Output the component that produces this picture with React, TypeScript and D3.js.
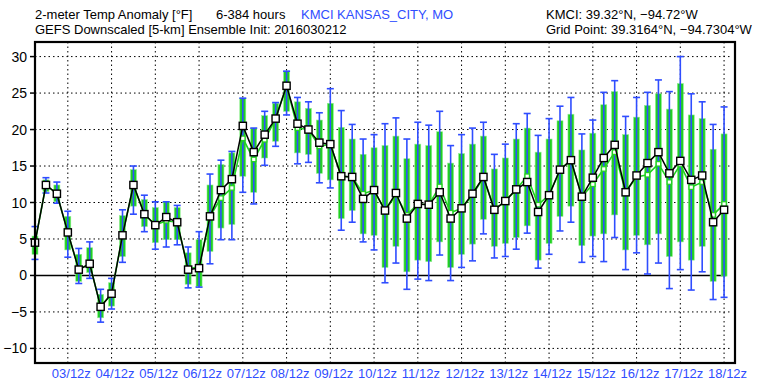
import * as d3 from "d3";

// forecast lead times, 6-384 h
const hours = d3.range(6, 385, 6);

// ensemble mean (black squares)
const meanVals = [
  4.5, 12.4, 11.2, 5.9, 0.8, 1.6, -4.3, -2.5, 5.5, 12.4, 8.4, 6.9, 8.0, 7.3, 0.8, 1.0,
  8.1, 11.7, 13.2, 20.5, 16.9, 19.3, 21.5, 26.0, 20.8, 20.0, 18.2, 18.0, 13.6, 13.5, 10.5, 11.7,
  8.9, 11.3, 7.8, 9.8, 9.7, 11.4, 7.8, 9.2, 11.2, 13.5, 9.0, 10.2, 11.8, 12.8, 8.7, 11.0,
  14.5, 15.8, 10.8, 13.4, 16.1, 17.9, 11.4, 13.7, 15.4, 16.9, 14.0, 15.7, 13.1, 13.7, 7.3, 9.0,
];

// ensemble median (green line)
const medianVals = [
  4.5, 12.4, 11.2, 5.9, 0.8, 1.6, -4.3, -2.5, 5.5, 12.4, 8.4, 6.9, 7.5, 7.3, 0.9, 1.2,
  8.1, 10.6, 12.0, 18.8, 15.9, 18.6, 21.5, 26.0, 20.2, 20.0, 17.7, 18.0, 13.6, 13.5, 11.2, 11.7,
  8.9, 11.0, 8.3, 9.8, 9.7, 12.2, 8.6, 9.2, 11.0, 13.5, 9.0, 10.2, 11.8, 13.6, 9.7, 11.0,
  14.5, 15.8, 10.8, 12.5, 14.6, 16.9, 11.4, 13.5, 13.8, 15.3, 12.8, 15.2, 12.1, 12.8, 8.3, 9.8,
];

const boxHigh = [
  5.4, 13.1, 12.4, 8.1, 2.9, 3.8, -2.6, -1.0, 8.2, 14.5, 10.4, 9.3, 10.1, 9.3, 3.1, 4.9,
  12.4, 15.2, 16.8, 24.3, 20.2, 21.9, 23.6, 28.0, 23.8, 22.9, 21.3, 23.6, 20.3, 18.7, 16.6, 17.5,
  17.8, 19.1, 16.0, 18.0, 17.8, 19.7, 15.4, 16.7, 18.0, 19.1, 14.6, 16.1, 18.7, 20.2, 16.9, 18.7,
  21.2, 22.1, 17.2, 19.5, 23.4, 25.2, 19.3, 21.7, 23.3, 24.9, 22.8, 26.3, 22.0, 21.5, 17.3, 19.4,
];

const boxLow = [
  2.9, 11.5, 10.1, 3.5, -0.8, 0.4, -5.8, -4.2, 2.6, 9.5, 6.7, 4.5, 4.9, 4.9, -1.2, -1.5,
  3.3, 6.5, 7.0, 13.6, 11.4, 16.1, 18.4, 22.5, 16.8, 16.6, 14.0, 13.1, 7.8, 8.9, 5.7, 5.5,
  1.1, 4.0, 0.5, 2.1, 1.9, 4.6, 1.1, 2.9, 4.3, 7.7, 4.0, 4.4, 5.2, 6.8, 2.1, 4.4,
  8.1, 9.5, 4.1, 5.4, 5.7, 8.3, 3.5, 5.5, 4.2, 5.7, 2.6, 4.6, 2.1, 4.0, -0.8, -0.1,
];

const whiskHigh = [
  6.7, 13.4, 12.8, 8.8, 3.7, 4.6, -1.9, -0.4, 9.0, 15.0, 11.0, 10.1, 10.1, 9.6, 3.9, 6.0,
  13.9, 15.8, 17.0, 24.3, 20.2, 22.5, 23.7, 28.0, 24.4, 23.8, 22.3, 25.6, 22.6, 20.7, 18.7, 19.3,
  20.8, 21.6, 18.7, 21.0, 20.6, 22.5, 17.8, 19.3, 20.2, 21.0, 16.6, 18.0, 20.8, 22.2, 19.2, 21.5,
  23.2, 24.4, 19.4, 21.3, 25.1, 26.7, 21.8, 24.4, 25.1, 26.8, 25.2, 30.0, 24.9, 23.8, 20.7, 23.1,
];

const whiskLow = [
  2.2, 11.3, 9.9, 2.5, -1.1, -0.4, -6.4, -4.6, 1.8, 8.4, 6.0, 3.6, 3.9, 4.2, -1.7, -1.6,
  1.6, 4.9, 4.9, 11.4, 9.8, 15.1, 17.7, 22.0, 15.3, 15.5, 12.7, 12.0, 6.2, 7.3, 4.6, 3.5,
  -1.0, 1.7, -1.9, -0.5, -0.7, 2.8, -0.7, 1.1, 2.0, 5.7, 2.4, 2.6, 3.6, 5.8, 1.0, 2.9,
  6.1, 7.3, 1.8, 2.6, 1.9, 5.2, 0.8, 3.1, 0.2, 1.7, -1.8, 0.8, -2.0, 0.5, -3.3, -3.0,
];

const dayTicks = d3.range(24, 385, 24);
const dayLabels = [
  "03/12z", "04/12z", "05/12z", "06/12z", "07/12z", "08/12z", "09/12z", "10/12z",
  "11/12z", "12/12z", "13/12z", "14/12z", "15/12z", "16/12z", "17/12z", "18/12z",
];
const yTicks = [-10, -5, 0, 5, 10, 15, 20, 25, 30];

const W = 770;
const H = 385;
const PLOT = { left: 35, right: 735, top: 42, bottom: 363 };
const BLUE = "#2f4dff";
const GREEN = "#22d022";
const FONT = "Liberation Sans, Arial, sans-serif";

export default function App() {
  const x = d3.scaleLinear().domain([6, 390]).range([PLOT.left, PLOT.right]);
  const y = d3.scaleLinear().domain([-12, 32]).range([PLOT.bottom, PLOT.top]);

  const seriesLine = d3
    .line<number>()
    .x((_, i) => x(hours[i]))
    .y((d) => y(d));

  const fmt = (v: number) => (v < 0 ? `\u2212${-v}` : `${v}`);
  const lastX = x(hours[hours.length - 1]);

  return (
    <svg
      width={W}
      height={H}
      style={{ position: "absolute", left: 0, top: 0, background: "white" }}
      fontFamily={FONT}
    >
      {/* header */}
      <text x={35} y={19} fontSize={13} fill="#000">
        2-meter Temp Anomaly [°F]
      </text>
      <text x={216} y={19} fontSize={13} fill="#000">
        6-384 hours
      </text>
      <text x={301} y={19} fontSize={13} fill={BLUE}>
        KMCI KANSAS_CITY, MO
      </text>
      <text x={35} y={34} fontSize={13} fill="#000">
        GEFS Downscaled [5-km] Ensemble Init: 2016030212
      </text>
      <text x={546} y={19} fontSize={13} fill="#000">
        KMCI: 39.32°N, −94.72°W
      </text>
      <text x={546} y={34} fontSize={13} fill="#000">
        Grid Point: 39.3164°N, −94.7304°W
      </text>

      {/* grid */}
      {yTicks
        .filter((t) => t !== 0)
        .map((t) => (
          <line
            key={`gy${t}`}
            x1={PLOT.left}
            x2={PLOT.right - 4}
            y1={y(t)}
            y2={y(t)}
            stroke="#000"
            strokeWidth={1}
            strokeDasharray="1.5 3"
          />
        ))}
      {dayTicks.map((h) => (
        <line
          key={`gx${h}`}
          x1={x(h)}
          x2={x(h)}
          y1={PLOT.top}
          y2={PLOT.bottom}
          stroke="#000"
          strokeWidth={1}
          strokeDasharray="1.5 3"
        />
      ))}
      <line x1={PLOT.left} x2={lastX + 2} y1={y(0)} y2={y(0)} stroke="#000" strokeWidth={1.5} />

      {/* boxes */}
      {hours.map((h, i) => (
        <rect
          key={`b${i}`}
          x={x(h) - 3}
          y={y(boxHigh[i])}
          width={6}
          height={y(boxLow[i]) - y(boxHigh[i])}
          fill={GREEN}
          stroke="#8ef08e"
          strokeWidth={0.6}
        />
      ))}
      {/* whiskers */}
      {hours.map((h, i) => (
        <g key={`w${i}`} stroke={BLUE} strokeWidth={1.6}>
          <line x1={x(h)} x2={x(h)} y1={y(whiskHigh[i])} y2={y(whiskLow[i])} />
          <line x1={x(h) - 3.5} x2={x(h) + 3.5} y1={y(whiskHigh[i])} y2={y(whiskHigh[i])} />
          <line x1={x(h) - 3.5} x2={x(h) + 3.5} y1={y(whiskLow[i])} y2={y(whiskLow[i])} />
        </g>
      ))}

      {/* median */}
      <path d={seriesLine(medianVals) ?? ""} fill="none" stroke={GREEN} strokeWidth={1.6} />
      {hours.map((h, i) => (
        <rect
          key={`md${i}`}
          x={x(h) - 2.2}
          y={y(medianVals[i]) - 2.2}
          width={4.4}
          height={4.4}
          fill="#fff"
          stroke={GREEN}
          strokeWidth={1.2}
        />
      ))}

      {/* mean */}
      <path d={seriesLine(meanVals) ?? ""} fill="none" stroke="#000" strokeWidth={1.5} />
      {hours.map((h, i) => (
        <rect
          key={`mn${i}`}
          x={x(h) - 3.6}
          y={y(meanVals[i]) - 3.6}
          width={7.2}
          height={7.2}
          fill="#fff"
          stroke="#000"
          strokeWidth={1.4}
        />
      ))}

      {/* frame */}
      <rect
        x={PLOT.left}
        y={PLOT.top}
        width={PLOT.right - PLOT.left}
        height={PLOT.bottom - PLOT.top}
        fill="none"
        stroke="#000"
        strokeWidth={2.2}
      />

      {/* y axis */}
      {yTicks.map((t) => (
        <g key={`yt${t}`}>
          <line x1={PLOT.left - 5} x2={PLOT.left} y1={y(t)} y2={y(t)} stroke="#000" strokeWidth={1.5} />
          <text x={27} y={y(t)} dy="0.36em" textAnchor="end" fontSize={14} fill="#000">
            {fmt(t)}
          </text>
        </g>
      ))}

      {/* x axis labels */}
      {dayTicks.map((h, i) => (
        <text key={`xl${h}`} x={x(h) - 16} y={378} fontSize={13} fill={BLUE}>
          {dayLabels[i]}
        </text>
      ))}
    </svg>
  );
}
